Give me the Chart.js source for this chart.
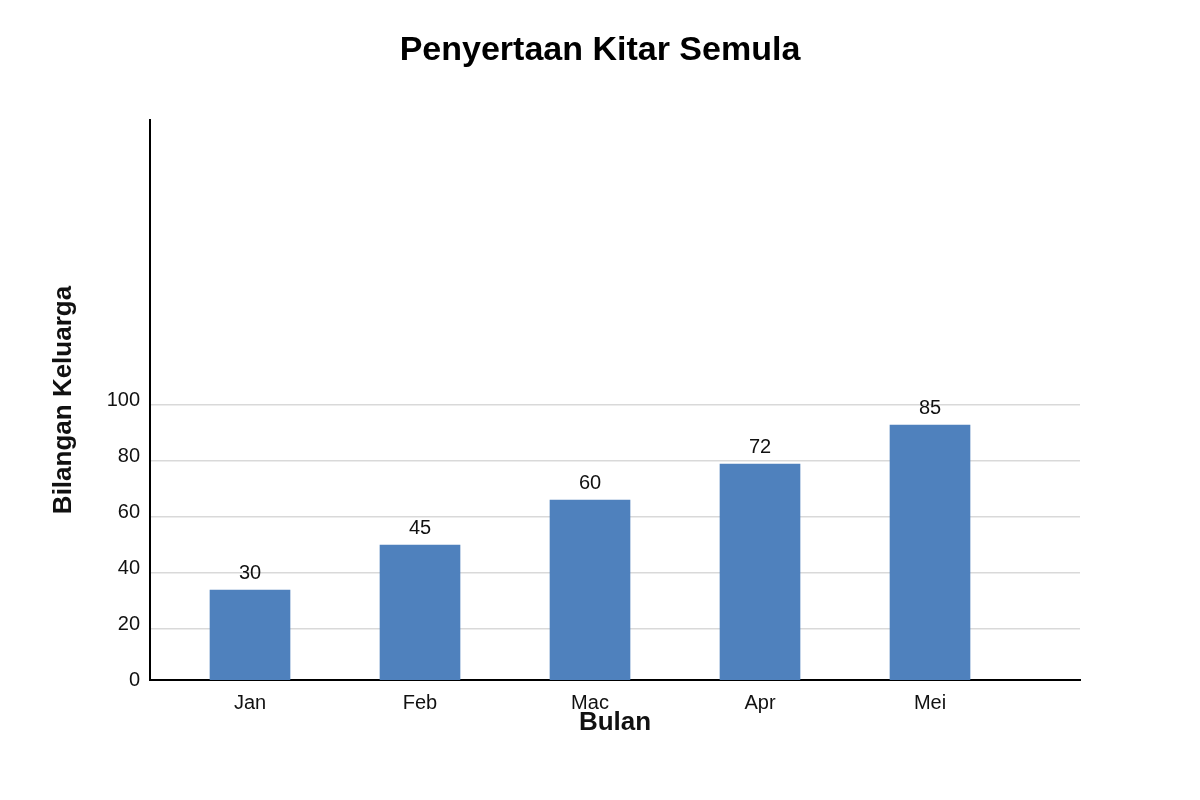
<!DOCTYPE html>
<html>
<head>
<meta charset="utf-8">
<script src="https://cdn.jsdelivr.net/npm/chart.js@4.4.0/dist/chart.umd.min.js"></script>
<style>
  body { margin: 0; background: #fff; }
</style>
</head>
<body>
<canvas id="myBarChart" width="1200" height="800"></canvas>
<script>
var months = ["Jan", "Feb", "Mac", "Apr", "Mei"];
var families = [30, 45, 60, 72, 85];
var yTickValues = [0, 20, 40, 60, 80, 100];
var gridValues = [20, 40, 60, 80, 100];

var FONT = '"Liberation Sans", Arial, sans-serif';

// numbers above each bar
var valueLabels = {
  id: 'valueLabels',
  afterDatasetsDraw: function(chart) {
    var ctx = chart.ctx;
    var meta = chart.getDatasetMeta(0);
    ctx.save();
    ctx.font = '20px ' + FONT;
    ctx.fillStyle = '#111';
    ctx.textAlign = 'center';
    ctx.textBaseline = 'middle';
    meta.data.forEach(function(bar, i) {
      ctx.fillText(families[i], bar.x, bar.y - 17);
    });
    ctx.restore();
  }
};

var ctx = document.getElementById("myBarChart");

var myBarChart = new Chart(ctx, {
  type: 'bar',
  data: {
    datasets: [{
      label: "Bilangan Keluarga",
      backgroundColor: "#4F81BD",
      borderWidth: 0,
      barThickness: 80,
      xAxisID: 'x',
      yAxisID: 'yBar',
      data: months.map(function(m, i) { return { x: i, y: families[i] }; })
    }]
  },
  options: {
    responsive: false,
    devicePixelRatio: 1,
    animation: false,
    layout: { padding: 0 },
    plugins: {
      legend: { display: false },
      tooltip: { enabled: false },
      title: {
        display: true,
        text: 'Penyertaan Kitar Semula',
        color: '#000',
        font: { family: FONT, size: 34, weight: 'bold' },
        padding: { top: 30.6, bottom: 48.6 }
      }
    },
    scales: {
      x: {
        type: 'linear',
        position: 'bottom',
        offset: false,
        min: -100 / 170,
        max: 830 / 170,
        afterBuildTicks: function(scale) {
          scale.ticks = months.map(function(m, i) { return { value: i }; });
        },
        afterFit: function(scale) { scale.height = 120; },
        ticks: {
          color: '#111',
          font: { family: FONT, size: 20 },
          padding: 3,
          callback: function(v) { return months[v]; }
        },
        grid: { display: false },
        border: { display: true, color: '#000', width: 2 },
        title: {
          display: true,
          text: 'Bulan',
          color: '#111',
          font: { family: FONT, size: 26, weight: 'bold' },
          padding: { top: 0, bottom: 61.4 }
        }
      },
      y: {
        position: 'left',
        min: 0,
        max: 200,
        afterBuildTicks: function(scale) {
          scale.ticks = yTickValues.map(function(v) { return { value: v }; });
        },
        afterFit: function(scale) { scale.width = 150; },
        ticks: {
          color: '#111',
          font: { family: FONT, size: 20 },
          padding: 2,
          labelOffset: 0
        },
        grid: { display: false },
        border: { display: true, color: '#000', width: 2 },
        title: {
          display: true,
          text: 'Bilangan Keluarga',
          color: '#111',
          font: { family: FONT, size: 26, weight: 'bold' },
          padding: { top: 48, bottom: 0 }
        }
      },
      yGrid: {
        position: 'left',
        min: 5 / 2.8,
        max: 5 / 2.8 + 560 / 2.8,
        afterBuildTicks: function(scale) {
          scale.ticks = gridValues.map(function(v) { return { value: v }; });
        },
        afterFit: function(scale) { scale.width = 0; },
        ticks: { display: false },
        grid: { color: '#d9d9d9', lineWidth: 1.5, drawTicks: false },
        border: { display: false }
      },
      yRight: {
        position: 'right',
        afterFit: function(scale) { scale.width = 120; },
        ticks: { display: false },
        grid: { display: false },
        border: { display: false }
      },
      yBar: {
        display: false,
        min: 0,
        max: 560 / 3
      }
    }
  },
  plugins: [valueLabels]
});
</script>
</body>
</html>
